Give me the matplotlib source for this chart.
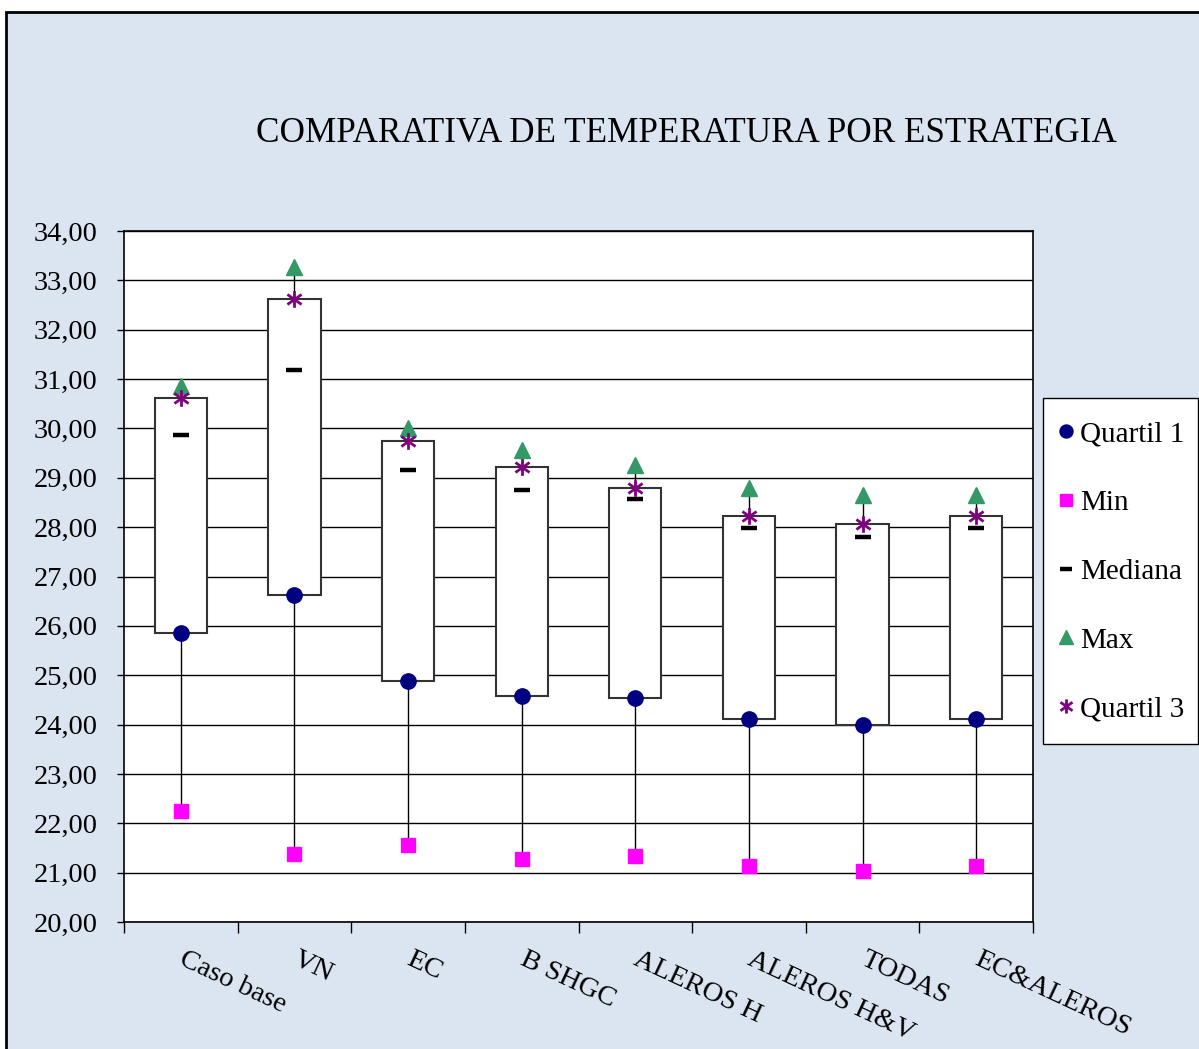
import matplotlib
matplotlib.use("Agg")
import matplotlib.pyplot as plt
from matplotlib.patches import Rectangle
from matplotlib.path import Path
from matplotlib.ticker import FuncFormatter, MultipleLocator
from matplotlib.transforms import ScaledTranslation
import numpy as np

# Temperature statistics per strategy
categories = ["Caso base", "VN", "EC", "B SHGC", "ALEROS H",
              "ALEROS H&V", "TODAS", "EC&ALEROS"]
quartil1 = [25.85, 26.63, 24.88, 24.57, 24.53, 24.11, 23.99, 24.11]
minimo = [22.25, 21.38, 21.57, 21.28, 21.34, 21.14, 21.03, 21.14]
mediana = [29.87, 31.19, 29.15, 28.75, 28.57, 27.98, 27.80, 27.99]
maximo = [30.85, 33.28, 30.00, 29.56, 29.26, 28.80, 28.65, 28.65]
quartil3 = [30.62, 32.62, 29.75, 29.21, 28.80, 28.23, 28.07, 28.23]

plt.rcParams["font.family"] = ["Liberation Serif", "DejaVu Serif"]

W, H = 1199, 1049
fig = plt.figure(figsize=(W / 100, H / 100), dpi=100, facecolor="white")

# light-blue chart area with a black frame on top/left
bg = Rectangle((6 / W, -0.02), 1.05, (H - 12) / H + 0.02,
               transform=fig.transFigure, facecolor="#dbe5f1",
               edgecolor="black", linewidth=2, zorder=-10)
fig.patches.append(bg)

ax = fig.add_axes([124 / W, 1 - 922 / H, (1033 - 124) / W, (922 - 231) / H])
ax.set_facecolor("white")

x = np.arange(len(categories))
q1 = np.array(quartil1)
q3 = np.array(quartil3)

# whiskers
ax.vlines(x, minimo, q1, color="black", linewidth=1, zorder=2)
ax.vlines(x, q3, maximo, color="black", linewidth=1, zorder=2)

# boxes from Q1 to Q3
ax.bar(x, q3 - q1, bottom=q1, width=0.46, color="white",
       edgecolor="#333333", linewidth=1.5, zorder=3)

star = Path([(0, -1), (0, 1), (-0.85, -0.6), (0.85, 0.6), (-0.85, 0.6), (0.85, -0.6)],
            [Path.MOVETO, Path.LINETO, Path.MOVETO, Path.LINETO, Path.MOVETO, Path.LINETO])

h1, = ax.plot(x, quartil1, "o", color="#000080", markersize=11, linestyle="none",
              zorder=5, label="Quartil 1")
h2, = ax.plot(x, minimo, "s", color="#ff00ff", markersize=10, linestyle="none",
              zorder=5, label="Min")
h3, = ax.plot(x, mediana, "_", color="black", markersize=11, markeredgewidth=3.2,
              linestyle="none", zorder=5, label="Mediana")
h4, = ax.plot(x, maximo, "^", color="#339966", markersize=12, linestyle="none",
              zorder=5, label="Max")
h5, = ax.plot(x, quartil3, marker=star, color="#800080", markersize=12,
              markeredgewidth=2, fillstyle="none", linestyle="none",
              zorder=6, label="Quartil 3")

ax.set_xlim(-0.5, len(categories) - 0.5)
ax.set_ylim(20, 34)
ax.yaxis.set_major_locator(MultipleLocator(1))
ax.yaxis.set_major_formatter(FuncFormatter(lambda v, p: f"{v:.2f}".replace(".", ",")))
ax.grid(axis="y", color="black", linewidth=1, zorder=0)
ax.set_axisbelow(True)

ax.set_xticks(x)
ax.set_xticklabels(categories, rotation=-25, ha="left", va="top",
                   rotation_mode="anchor")
ax.set_xticks(np.arange(-0.5, len(categories), 1), minor=True)
ax.tick_params(axis="x", which="major", length=0, pad=18, labelsize=20.5)
ax.tick_params(axis="x", which="minor", length=8, width=1, direction="out")
ax.tick_params(axis="y", length=5, width=1, direction="out", labelsize=20.5, pad=14)
shift = ScaledTranslation(5 / 100, 0, fig.dpi_scale_trans)
for lbl in ax.get_xticklabels():
    lbl.set_transform(lbl.get_transform() + shift)

for s in ax.spines.values():
    s.set_color("black")
    s.set_linewidth(1.2)

fig.text(686 / W, 1 - 133 / H, "COMPARATIVA DE TEMPERATURA POR ESTRATEGIA",
         ha="center", va="center", fontsize=25.3)

# legend frame
legbox = Rectangle((1043 / W, 1 - 744 / H), (1198 - 1043) / W, (744 - 398) / H,
                   transform=fig.transFigure, facecolor="white",
                   edgecolor="black", linewidth=1, zorder=1)
fig.patches.append(legbox)

leg = fig.legend(handles=[h1, h2, h3, h4, h5], loc="upper left",
                 bbox_to_anchor=(1057 / W, 1 - 421 / H), fontsize=21,
                 frameon=False, handlelength=0.6, handletextpad=0.2,
                 labelspacing=1.45, borderpad=0, borderaxespad=0,
                 markerscale=0.85)
leg.set_zorder(2)

fig.savefig("out.png", dpi=100, facecolor=fig.get_facecolor())
